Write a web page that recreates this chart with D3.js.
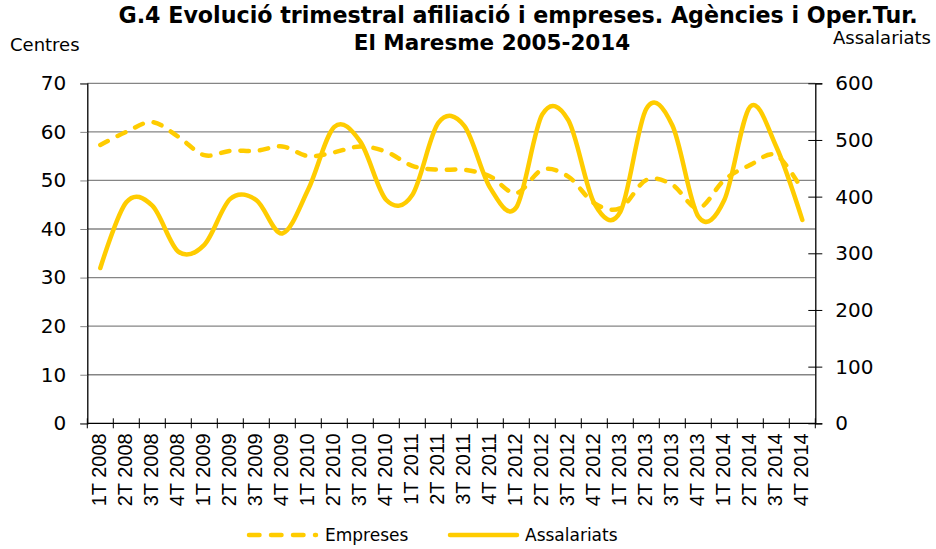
<!DOCTYPE html>
<html>
<head>
<meta charset="utf-8">
<script src="https://cdn.jsdelivr.net/npm/d3@7"></script>
<style>
  body { margin: 0; background: #fff; }
  svg { display: block; }
</style>
</head>
<body>
<div id="chart"></div>
<script>
// Categories (quarter labels)
const categories = [
  "1T 2008", "2T 2008", "3T 2008", "4T 2008",
  "1T 2009", "2T 2009", "3T 2009", "4T 2009",
  "1T 2010", "2T 2010", "3T 2010", "4T 2010",
  "1T 2011", "2T 2011", "3T 2011", "4T 2011",
  "1T 2012", "2T 2012", "3T 2012", "4T 2012",
  "1T 2013", "2T 2013", "3T 2013", "4T 2013",
  "1T 2014", "2T 2014", "3T 2014", "4T 2014"
];

// Empreses (left axis, centres)
const empreses = [
  57.3, 60.0, 62.0, 59.0,
  55.2, 56.1, 56.1, 57.0,
  55.0, 55.8, 57.0, 55.9,
  53.0, 52.2, 52.2, 50.8,
  47.4, 52.2, 50.8, 45.3,
  44.3, 50.1, 49.1, 44.3,
  50.1, 53.2, 55.2, 48.0
];

// Assalariats (right axis)
const assalariats = [
  274, 390, 384, 303,
  315, 396, 394, 335,
  413, 523, 497, 394,
  403, 530, 525, 415,
  381, 545, 535, 388,
  373, 555, 526, 365,
  394, 559, 488, 359
];

const leftTicks = [0, 10, 20, 30, 40, 50, 60, 70];
const rightTicks = [0, 100, 200, 300, 400, 500, 600];

const width = 936;
const height = 549;
const plot = { left: 87.3, right: 815.3, top: 83.3, bottom: 423.3 };
const lineColor = "#FFCC00";

const svg = d3.select("#chart")
  .append("svg")
  .attr("width", width)
  .attr("height", height)
  .style("font-family", "'DejaVu Sans', sans-serif");

// Scales
const x = d3.scaleBand()
  .domain(categories)
  .range([plot.left, plot.right]);

const yLeft = d3.scaleLinear()
  .domain([0, 70])
  .range([plot.bottom, plot.top]);

const yRight = d3.scaleLinear()
  .domain([0, 600])
  .range([plot.bottom, plot.top]);

const cx = (d) => x(d) + x.bandwidth() / 2;

// Gridlines (left axis)
svg.append("g")
  .selectAll("line")
  .data(leftTicks.slice(1))
  .join("line")
    .attr("x1", plot.left)
    .attr("x2", plot.right)
    .attr("y1", (d) => yLeft(d))
    .attr("y2", (d) => yLeft(d))
    .attr("stroke", "#858585")
    .attr("stroke-width", 1.3);

// Left axis
const leftAxis = svg.append("g")
  .attr("transform", `translate(${plot.left},0)`)
  .call(d3.axisLeft(yLeft).tickValues(leftTicks).tickSize(7).tickPadding(14));
leftAxis.select(".domain").attr("stroke", "#000").attr("stroke-width", 1.3);
leftAxis.selectAll(".tick line").attr("stroke", "#858585").attr("x2", 0).attr("x1", -7);
leftAxis.selectAll("text")
  .attr("font-family", "'DejaVu Sans', sans-serif")
  .attr("font-size", 20)
  .attr("fill", "#000");

// Right axis (ticks cross the axis line)
const rightAxis = svg.append("g")
  .attr("transform", `translate(${plot.right},0)`)
  .call(d3.axisRight(yRight).tickValues(rightTicks).tickSize(7).tickPadding(13));
rightAxis.select(".domain").attr("stroke", "#000").attr("stroke-width", 1.3);
rightAxis.selectAll(".tick line").attr("stroke", "#000").attr("x1", -7).attr("x2", 7);
rightAxis.selectAll("text")
  .attr("font-family", "'DejaVu Sans', sans-serif")
  .attr("font-size", 20)
  .attr("fill", "#000");

// Bottom axis: ticks on category boundaries, crossing the line
const boundaries = categories.map((d) => x(d)).concat([plot.right]);
svg.append("line")
  .attr("x1", plot.left).attr("x2", plot.right)
  .attr("y1", plot.bottom).attr("y2", plot.bottom)
  .attr("stroke", "#000").attr("stroke-width", 1.3);
svg.append("g")
  .selectAll("line")
  .data(boundaries)
  .join("line")
    .attr("x1", (d) => d).attr("x2", (d) => d)
    .attr("y1", plot.bottom - 5).attr("y2", plot.bottom + 5)
    .attr("stroke", "#000").attr("stroke-width", 1);

svg.append("g")
  .selectAll("text")
  .data(categories)
  .join("text")
    .attr("transform", (d) => `translate(${cx(d) + 6},${plot.bottom + 10}) rotate(-90)`)
    .attr("text-anchor", "end")
    .attr("font-family", "'Liberation Sans', Arial, sans-serif")
    .attr("font-size", 20)
    .attr("fill", "#000")
    .text((d) => d);

// Lines
const smooth = d3.curveCardinal.tension(0);

const lineEmp = d3.line()
  .x((d, i) => cx(categories[i]))
  .y((d) => yLeft(d))
  .curve(smooth);

const lineAss = d3.line()
  .x((d, i) => cx(categories[i]))
  .y((d) => yRight(d))
  .curve(smooth);

svg.append("path")
  .datum(empreses)
  .attr("d", lineEmp)
  .attr("fill", "none")
  .attr("stroke", lineColor)
  .attr("stroke-width", 4.5)
  .attr("stroke-linecap", "round")
  .attr("stroke-dasharray", "8.5,11");

svg.append("path")
  .datum(assalariats)
  .attr("d", lineAss)
  .attr("fill", "none")
  .attr("stroke", lineColor)
  .attr("stroke-width", 4.5)
  .attr("stroke-linecap", "round");

// Titles
svg.append("text")
  .attr("x", 518).attr("y", 23)
  .attr("text-anchor", "middle")
  .attr("font-weight", "bold")
  .attr("font-size", 22.2)
  .text("G.4 Evolució trimestral afiliació i empreses. Agències i Oper.Tur.");

svg.append("text")
  .attr("x", 492).attr("y", 50)
  .attr("text-anchor", "middle")
  .attr("font-weight", "bold")
  .attr("font-size", 21.5)
  .text("El Maresme 2005-2014");

svg.append("text")
  .attr("x", 10).attr("y", 51)
  .attr("font-size", 18)
  .text("Centres");

svg.append("text")
  .attr("x", 931).attr("y", 44)
  .attr("text-anchor", "end")
  .attr("font-size", 18)
  .text("Assalariats");

// Legend
const legend = [
  { name: "Empreses", dash: "10.5,11.5", x0: 249, x1: 316, tx: 325 },
  { name: "Assalariats", dash: null, x0: 450, x1: 517, tx: 525 }
];
const lg = svg.append("g").selectAll("g").data(legend).join("g");
lg.append("line")
  .attr("x1", (d) => d.x0).attr("x2", (d) => d.x1)
  .attr("y1", 535).attr("y2", 535)
  .attr("stroke", lineColor)
  .attr("stroke-width", 4.5)
  .attr("stroke-linecap", "round")
  .attr("stroke-dasharray", (d) => d.dash);
lg.append("text")
  .attr("x", (d) => d.tx).attr("y", 541)
  .attr("font-size", 17)
  .text((d) => d.name);
</script>
</body>
</html>
